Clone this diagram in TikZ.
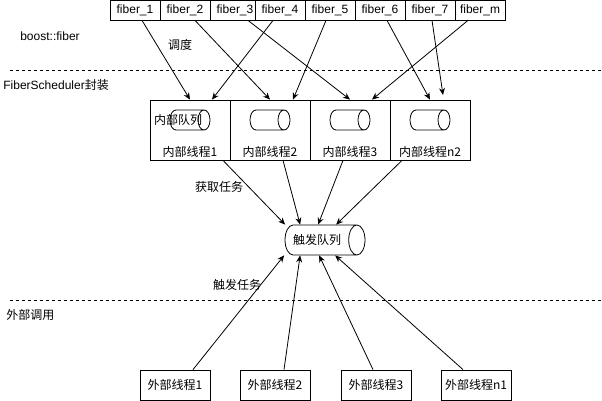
\documentclass[tikz,border=0pt]{standalone}
\usepackage{fontspec}
\setmainfont{Liberation Sans}
\newfontfamily\cjk{Noto Sans CJK SC}
\usetikzlibrary{arrows.meta}
\usetikzlibrary{positioning}
\usetikzlibrary{shapes.geometric}
\tikzset{>={Stealth[length=7pt,width=6pt]}}
\tikzstyle{fiberbox} = [rectangle, minimum width=50pt, minimum height=20pt, inner sep=0pt, text centered, draw=black, fill=white]
\tikzstyle{cell} = [rectangle, minimum width=80pt, minimum height=60pt, inner sep=0pt, draw=black]
\tikzstyle{queue} = [cylinder, anchor=shape center, aspect=0.6, minimum height=40pt, minimum width=20pt, inner xsep=0pt, inner ysep=10pt, draw=black]
\tikzstyle{thread} = [rectangle, minimum width=70pt, minimum height=30pt, inner sep=0pt, text centered, draw=black]
\tikzstyle{txt} = [inner sep=0pt]
\tikzstyle{arrow} = [->]
\tikzstyle{sep} = [dash pattern=on 3pt off 3pt]

\begin{document}
\begin{tikzpicture}[x=1pt, y=-1pt, font=\fontsize{12}{14}\selectfont, line width=0.8pt]
\path[use as bounding box, fill=white] (0,0) rectangle (602,401);
	% layer separators
	\draw[sep] (10,70.5) -- (602,70.5);
	\draw[sep] (10,300) -- (602,300);
	\node (lboost) [txt] at (50,36) {boost::fiber};
	\node (lsched) [txt, anchor=west] at (3,85) {FiberScheduler{\cjk 封装}};
	\node (lext) [txt, anchor=west] at (6,315) {\cjk 外部调用};
	% fibers
	\node (f1) [fiberbox] at (135,10) {fiber\_1};
	\node (f2) [fiberbox] at (185,10) {fiber\_2};
	\node (f3) [fiberbox] at (235,10) {fiber\_3};
	\node (f4) [fiberbox] at (280,10) {fiber\_4};
	\node (f5) [fiberbox] at (330,10) {fiber\_5};
	\node (f6) [fiberbox] at (380,10) {fiber\_6};
	\node (f7) [fiberbox] at (430,10) {fiber\_7};
	\node (fm) [fiberbox] at (480,10) {fiber\_m};
	% internal threads
	\node (c1) [cell] at (190,130) {};
	\node (c2) [cell] at (270,130) {};
	\node (c3) [cell] at (350,130) {};
	\node (c4) [cell] at (430,130) {};
	\node (q1) [queue] at (190,120) {};
	\node (q2) [queue] at (270,120) {};
	\node (q3) [queue] at (350,120) {};
	\node (q4) [queue] at (430,120) {};
	\node (lq) [txt] at (178,120) {\cjk 内部队列};
	\node (t1) [txt] at (190,152) {\cjk 内部线程1};
	\node (t2) [txt] at (270,152) {\cjk 内部线程2};
	\node (t3) [txt] at (350,152) {\cjk 内部线程3};
	\node (t4) [txt] at (430,152) {\cjk 内部线程n2};
	% trigger queue
	\node (trig) [queue, minimum height=80pt, minimum width=30pt, inner ysep=8pt] at (325,240) {\cjk 触发队列};
	% external threads
	\node (e1) [thread] at (175,385) {\cjk 外部线程1};
	\node (e2) [thread] at (275,385) {\cjk 外部线程2};
	\node (e3) [thread] at (376,385) {\cjk 外部线程3};
	\node (e4) [thread] at (476,385) {\cjk 外部线程n1};
	\coordinate (f7end) at (443,95);
	% scheduling
	\draw[arrow] ([xshift=7pt]f1.south) -- (c1.north);
	\draw[arrow] ([xshift=10pt]f2.south) -- (c2.north);
	\draw[arrow] ([xshift=13pt]f3.south) -- (c3.north);
	\draw[arrow] ([xshift=-7pt]f4.south) -- ([xshift=22pt]c1.north);
	\draw[arrow] ([xshift=-4pt]f5.south) -- ([xshift=23pt]c2.north);
	\draw[arrow] ([xshift=7pt]f6.south) -- (c4.north);
	\draw[arrow] ([xshift=2pt]f7.south) -- (f7end);
	\draw[arrow] ([xshift=-12pt]fm.south) -- ([xshift=22pt]c3.north);
	\node (lsch) [txt] at (180,45) {\cjk 调度};
	% fetch tasks
	\draw[arrow] ([xshift=33pt]c1.south) -- ([xshift=-32pt]trig.north);
	\draw[arrow] ([xshift=13pt]c2.south) -- ([xshift=-17pt]trig.north);
	\draw[arrow] ([xshift=-7pt]c3.south) -- ([xshift=1pt]trig.north);
	\draw[arrow] ([xshift=-28pt]c4.south) -- ([xshift=19pt]trig.north);
	\node (lfetch) [txt] at (219,187) {\cjk 获取任务};
	% trigger tasks
	\draw[arrow] ([xshift=18pt]e1.north) -- ([xshift=-33pt]trig.south);
	\draw[arrow] ([xshift=9pt]e2.north) -- ([xshift=-17pt]trig.south);
	\draw[arrow] ([xshift=-3pt]e3.north) -- ([xshift=2pt]trig.south);
	\draw[arrow] ([xshift=-13pt]e4.north) -- ([xshift=18pt]trig.south);
	\node (ltrig) [txt] at (237,285) {\cjk 触发任务};
\end{tikzpicture}
\end{document}
